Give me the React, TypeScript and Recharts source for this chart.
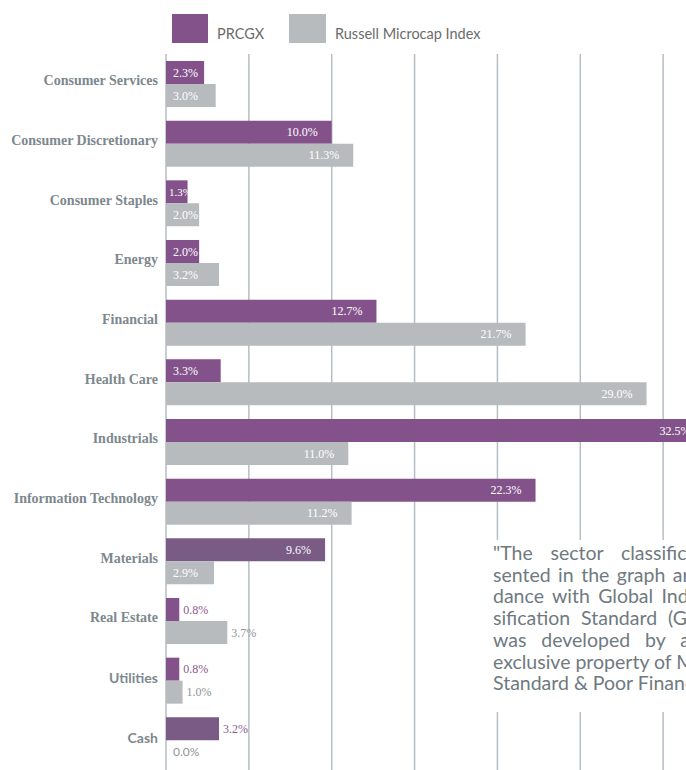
import React from 'react';
import { BarChart, Bar, XAxis, YAxis, CartesianGrid, LabelList, Cell } from 'recharts';

// sector weights, % of portfolio
const categories = [
    'Consumer Services',
    'Consumer Discretionary',
    'Consumer Staples',
    'Energy',
    'Financial',
    'Health Care',
    'Industrials',
    'Information Technology',
    'Materials',
    'Real Estate',
    'Utilities',
    'Cash'
];
const prcgx = [2.3, 10.0, 1.3, 2.0, 12.7, 3.3, 32.5, 22.3, 9.6, 0.8, 0.8, 3.2];
const russell = [3.0, 11.3, 2.0, 3.2, 21.7, 29.0, 11.0, 11.2, 2.9, 3.7, 1.0, 0.0];
const xTicks = [0, 5, 10, 15, 20, 25, 30, 35];

const seriesNames = ['PRCGX', 'Russell Microcap Index'];

const noteLines = [
    '"The sector classification pre-',
    'sented in the graph are in accor-',
    'dance with Global Industry Clas-',
    'sification Standard (GICS) which',
    'was developed by and is the',
    'exclusive property of MSCI Inc. and',
    'Standard & Poor Financial Services LLC."'
];

const PURPLE = '#84528a';
const PURPLE_DARK = '#7a5b86';
const GRAY = '#b7bbbe';
const LABEL_GRAY = '#7d888e';
const SERIF = '"Liberation Serif", "DejaVu Serif", serif';
const SANS = 'Lato, "Open Sans", sans-serif';

// rows whose labels sit beside the bars, and rows with sans labels
const outsideRows = ['Real Estate', 'Utilities', 'Cash'];
const sansRows = ['Utilities', 'Cash'];
const darkRows = ['Materials', 'Cash'];

const data = categories.map((name, i) => ({ name, prcgx: prcgx[i], russell: russell[i] }));

const fmt = (v: number) => `${Number(v).toFixed(1)}%`;

const CategoryTick = ({ x, y, payload }: any) => {
    const sans = sansRows.includes(payload.value);
    return (
        <text
            x={x}
            y={y - 3}
            textAnchor="end"
            dominantBaseline="central"
            fill={LABEL_GRAY}
            fontFamily={sans ? SANS : SERIF}
            fontWeight="bold"
            fontSize={14}
        >
            {payload.value}
        </text>
    );
};

const makeLabel = (outsideColor: string, isTop: boolean) => (props: any) => {
    const { x, y, width, height, value, index } = props;
    const text = fmt(value);
    const cy = y + height / 2;
    let main;
    if (outsideRows.includes(categories[index])) {
        main = (
            <text x={x + width + 4} y={cy} dominantBaseline="central" fill={outsideColor}
                fontFamily={SERIF} fontSize={12}>
                {text}
            </text>
        );
    } else if (width < 75) {
        main = (
            <text x={x + (width < 30 ? 3 : 7)} y={cy} dominantBaseline="central" fill="#fff"
                fontFamily={SERIF} fontSize={width < 30 ? 11 : 12}>
                {text}
            </text>
        );
    } else {
        main = (
            <text x={x + width - 14} y={cy} textAnchor="end" dominantBaseline="central" fill="#fff"
                fontFamily={SERIF} fontSize={12}>
                {text}
            </text>
        );
    }
    // a zero-width index bar is not drawn, so its label is placed from the fund bar
    const zeroBelow = isTop && russell[index] === 0;
    return (
        <g>
            {main}
            {zeroBelow && (
                <text x={x + 7} y={cy + height} dominantBaseline="central" fill="#8e9599"
                    fontFamily={SANS} fontSize={12}>
                    {fmt(russell[index])}
                </text>
            )}
        </g>
    );
};

export default function App() {
    return (
        <div style={{ position: 'absolute', left: 0, top: 0, width: 686, height: 770, overflow: 'hidden', background: '#fff' }}>
            {/* legend */}
            <div style={{ position: 'absolute', top: 14, left: 172, display: 'flex', fontFamily: SANS, fontSize: 14.5, color: '#6b6b6b' }}>
                <div style={{ width: 36, height: 29, background: PURPLE }} />
                <div style={{ marginLeft: 9, marginTop: 11, width: 72 }}>{seriesNames[0]}</div>
                <div style={{ width: 37, height: 29, background: GRAY }} />
                <div style={{ marginLeft: 9, marginTop: 11 }}>{seriesNames[1]}</div>
            </div>

            <BarChart
                width={746}
                height={770}
                data={data}
                layout="vertical"
                margin={{ top: 54, right: 0, bottom: 0, left: 0 }}
                barSize={23}
                barGap={0}
            >
                <CartesianGrid horizontal={false} stroke="#b5bec4" strokeWidth={1.5} />
                <XAxis type="number" domain={[0, 35]} ticks={xTicks} hide />
                <YAxis
                    type="category"
                    dataKey="name"
                    width={166}
                    axisLine={false}
                    tickLine={false}
                    tickMargin={2}
                    interval={0}
                    tick={<CategoryTick />}
                />
                <Bar dataKey="prcgx" fill={PURPLE} isAnimationActive={false}>
                    {data.map((d, i) => (
                        <Cell key={i} fill={darkRows.includes(d.name) ? PURPLE_DARK : PURPLE} />
                    ))}
                    <LabelList dataKey="prcgx" content={makeLabel('#8a5a92', true)} />
                </Bar>
                <Bar dataKey="russell" fill={GRAY} isAnimationActive={false}>
                    <LabelList dataKey="russell" content={makeLabel('#8e9599', false)} />
                </Bar>
            </BarChart>

            {/* GICS note sits over the grid */}
            <div style={{ position: 'absolute', left: 488, top: 540, width: 198, height: 172, background: '#fff', overflow: 'hidden' }}>
                {noteLines.map((line, i) => (
                    <div
                        key={i}
                        style={{
                            position: 'absolute',
                            left: 5,
                            top: 2 + i * 21.7,
                            width: 290,
                            height: 22,
                            lineHeight: '22px',
                            overflow: 'hidden',
                            whiteSpace: i < 5 ? 'normal' : 'nowrap',
                            fontFamily: SANS,
                            fontSize: 19.5,
                            color: '#6f7a80',
                            textAlign: i < 5 ? 'justify' : 'left',
                            textAlignLast: i < 5 ? 'justify' : 'left'
                        }}
                    >
                        {line}
                    </div>
                ))}
            </div>
        </div>
    );
}
